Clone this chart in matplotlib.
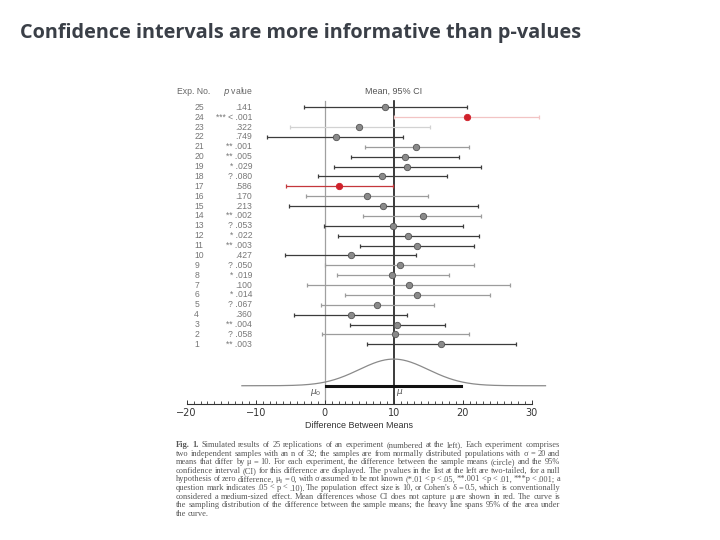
import numpy as np
import matplotlib
matplotlib.use("Agg")
import matplotlib.pyplot as plt

# experiment data, experiment 1..25 (bottom to top)
exp_no = list(range(1, 26))
p_text = ["** .003", "? .058", "** .004", ".360", "? .067", "* .014", ".100", "* .019",
          "? .050", ".427", "** .003", "* .022", "? .053", "** .002", ".213", ".170",
          ".586", "? .080", "* .029", "** .005", "** .001", ".749", ".322", "*** < .001", ".141"]
ci_low = [6.2, -0.4, 3.6, -4.5, -0.56, 2.9, -2.5, 1.8, 0.0, -5.8, 5.05, 1.9, -0.1, 5.5,
          -5.2, -2.7, -5.6, -1.04, 1.38, 3.84, 5.8, -8.3, -5.1, 10.1, -3.07]
mean_diff = [16.9, 10.2, 10.55, 3.75, 7.6, 13.4, 12.25, 9.8, 10.85, 3.75, 13.4, 12.05, 9.9,
             14.2, 8.5, 6.06, 2.1, 8.33, 12.0, 11.7, 13.2, 1.57, 5.0, 20.6, 8.77]
ci_high = [27.7, 20.9, 17.4, 12.0, 15.8, 23.9, 26.9, 18.0, 21.6, 13.3, 21.7, 22.4, 20.0,
           22.7, 22.2, 14.9, 9.9, 17.7, 22.7, 19.5, 20.9, 11.4, 15.3, 31.0, 20.6]
# line shade: d = dark, l = light, v = very light, r = red, p = pale red
shade = ["d", "l", "d", "d", "l", "l", "l", "l", "l", "d", "d", "d", "d", "l", "d", "l",
         "r", "d", "d", "d", "l", "d", "v", "p", "d"]

mu0 = 0
mu = 10
sd = 5  # sampling sd of the difference: 20*sqrt(2/32)

line_col = {"d": "#3c3c3c", "l": "#9c9c9c", "v": "#d2d2d2", "r": "#c4373c", "p": "#f2c4c4"}
dot_col = {"d": "#8a8a8a", "l": "#8a8a8a", "v": "#8a8a8a", "r": "#d0202a", "p": "#d0202a"}
narrow = ["Liberation Sans Narrow", "Liberation Sans"]

fig = plt.figure(figsize=(7.2, 5.4), dpi=100)
title = fig.text(20 / 720, 1 - 33 / 540, "Confidence intervals are more informative than p-values",
                 fontsize=14.3, family="Open Sans", weight="bold", color="#3a3f47",
                 va="center", ha="left")

ax = fig.add_axes([186.7 / 720, 1 - 404 / 540, 345 / 720, 319 / 540])
ax.set_xlim(-20, 30)
ax.set_ylim(-5.05, 27.26)

# reference lines at mu0 and mu
ax.plot([mu0, mu0], [-4.8, 25.6], color="#a0a0a0", lw=0.9, zorder=1)
ax.plot([mu, mu], [-5.0, 25.6], color="#1a1a1a", lw=1.2, zorder=1)

for i, n in enumerate(exp_no):
    s = shade[i]
    ax.errorbar(mean_diff[i], n, xerr=[[mean_diff[i] - ci_low[i]], [ci_high[i] - mean_diff[i]]],
                fmt="none", ecolor=line_col[s], elinewidth=0.9, capsize=1.6, capthick=0.9,
                zorder=2, clip_on=False)
    ax.plot(mean_diff[i], n, "o", ms=4.6, mfc=dot_col[s], mec="#555555" if s in "dlv" else dot_col[s],
            mew=0.6, zorder=3)
    ax.text(-18.9, n, str(n), fontsize=6.2, color="#777777", va="center", ha="left", family=narrow)
    ax.text(-10.5, n, p_text[i], fontsize=6.2, color="#777777", va="center", ha="right", family=narrow)

# headers
ax.text(-21.4, 26.58, "Exp. No.", fontsize=6.2, color="#666666", va="center", ha="left", family=narrow)
ax.text(-10.4, 26.58, "$\\it{p}$ value", fontsize=6.2, color="#666666", va="center", ha="right",
        family=narrow)
ax.text(mu, 26.58, "Mean, 95% CI", fontsize=6.5, color="#555555", va="center", ha="center",
        family=narrow)

# sampling distribution curve
base = -3.2
peak = 2.7
xs = np.linspace(-12, 32, 400)
dens = np.exp(-0.5 * ((xs - mu) / sd) ** 2)
ax.plot(xs, base + peak * dens, color="#8a8a8a", lw=0.9, zorder=2, clip_on=False)
ax.plot([mu - 1.96 * sd, mu + 1.96 * sd], [base, base], color="#111111", lw=2.2, zorder=3)
ax.text(-0.4, -3.85, "$\\mu_0$", fontsize=6.5, color="#555555", ha="right", va="center")
ax.text(10.4, -3.85, "$\\mu$", fontsize=6.5, color="#555555", ha="left", va="center")

for side in ["top", "right", "left"]:
    ax.spines[side].set_visible(False)
ax.spines["bottom"].set_color("#333333")
ax.spines["bottom"].set_linewidth(0.8)
ax.set_yticks([])
ax.set_xticks([-20, -10, 0, 10, 20, 30])
ax.set_xticklabels(["\u221220", "\u221210", "0", "10", "20", "30"])
ax.set_xticks(np.arange(-20, 31, 1), minor=True)
ax.tick_params(axis="x", which="both", direction="in", colors="#333333", labelsize=7, pad=3)
ax.tick_params(axis="x", which="major", length=3, width=0.7)
ax.tick_params(axis="x", which="minor", length=2.2, width=0.6)
ax.patch.set_alpha(0)
ax.set_xlabel("Difference Between Means", fontsize=6.5, color="#333333", labelpad=2, family=narrow)

caption = [
    "Fig. 1. Simulated results of 25 replications of an experiment (numbered at the left). Each experiment comprises",
    "two independent samples with an n of 32; the samples are from normally distributed populations with \u03c3 = 20 and",
    "means that differ by \u03bc = 10. For each experiment, the difference between the sample means (circle) and the 95%",
    "confidence interval (CI) for this difference are displayed. The p values in the list at the left are two-tailed, for a null",
    "hypothesis of zero difference, \u03bc\u2080 = 0, with \u03c3 assumed to be not known (*.01 < p < .05, **.001 < p < .01, ***p < .001; a",
    "question mark indicates .05 < p < .10). The population effect size is 10, or Cohen's \u03b4 = 0.5, which is conventionally",
    "considered a medium-sized effect. Mean differences whose CI does not capture \u03bc are shown in red. The curve is",
    "the sampling distribution of the difference between the sample means; the heavy line spans 95% of the area under",
    "the curve.",
]

# justified caption: place word by word between x0 and x1 (pixels)
renderer = fig.canvas.get_renderer()
x0, x1 = 176.0, 560.0
for k, line in enumerate(caption):
    y = 1 - (447 + 8.6 * k) / 540
    words = line.split(" ")
    items = []
    for j, w in enumerate(words):
        bold = k == 0 and j < 2
        t = fig.text(0, y, w, fontsize=6.0, color="#555555", weight="bold" if bold else "normal",
                     family=["Liberation Serif", "DejaVu Serif"], va="baseline", ha="left")
        items.append((t, t.get_window_extent(renderer).width))
    total = sum(wd for _, wd in items)
    if k < len(caption) - 1:
        gap = (x1 - x0 - total) / (len(items) - 1)
    else:
        gap = 1.6
    x = x0
    for t, wd in items:
        t.set_x(x / 720)
        x += wd + gap

fig.savefig("out.png", dpi=100)
